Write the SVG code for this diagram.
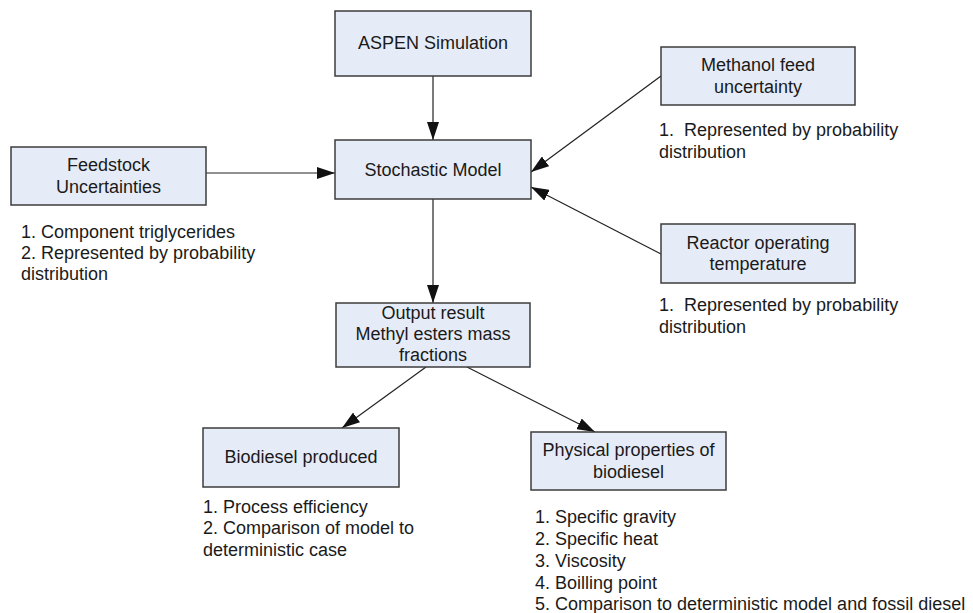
<svg xmlns="http://www.w3.org/2000/svg" width="973" height="613" viewBox="0 0 973 613">
<defs>
<marker id="arr" markerUnits="userSpaceOnUse" markerWidth="18" markerHeight="12" refX="18" refY="6" orient="auto">
<path d="M0,0 L18,6 L0,12 z" fill="#111"/>
</marker>
<style>
.box{fill:#E6ECF7;stroke:#3c3c3c;stroke-width:1.5}
.t{font-family:"Liberation Sans",Arial,sans-serif;font-size:18px;fill:#1a1a1a}
.c{text-anchor:middle}
.ln{stroke:#222;stroke-width:1.2;fill:none;marker-end:url(#arr)}
</style>
</defs>
<rect width="973" height="613" fill="#fff"/>
<g id="connectors">
<line class="ln" x1="433" y1="76" x2="433" y2="140"/>
<line class="ln" x1="206" y1="173" x2="335" y2="173"/>
<line class="ln" x1="661" y1="76" x2="531" y2="172"/>
<line class="ln" x1="661" y1="254" x2="531" y2="187"/>
<line class="ln" x1="433" y1="199" x2="433" y2="303"/>
<line class="ln" x1="426" y1="367" x2="342" y2="428"/>
<line class="ln" x1="467" y1="367" x2="595" y2="432"/>
</g>
<g id="aspen">
<rect class="box" x="335" y="11" width="196" height="65"/>
<text class="t c" x="433" y="49">ASPEN Simulation</text>
</g>
<g id="stochastic">
<rect class="box" x="335" y="140" width="196" height="59"/>
<text class="t c" x="433" y="176">Stochastic Model</text>
</g>
<g id="feedstock">
<rect class="box" x="11" y="147" width="195" height="58"/>
<text class="t c" x="108.5" y="171">Feedstock</text>
<text class="t c" x="108.5" y="193">Uncertainties</text>
<text class="t" x="21" y="238">1. Component triglycerides</text>
<text class="t" x="21" y="259">2. Represented by probability</text>
<text class="t" x="21" y="280">distribution</text>
</g>
<g id="methanol">
<rect class="box" x="661" y="47" width="194" height="58"/>
<text class="t c" x="758" y="71">Methanol feed</text>
<text class="t c" x="758" y="93">uncertainty</text>
<text class="t" x="659" y="136" xml:space="preserve">1.  Represented by probability</text>
<text class="t" x="659" y="158">distribution</text>
</g>
<g id="reactor">
<rect class="box" x="661" y="224" width="194" height="59"/>
<text class="t c" x="758" y="249">Reactor operating</text>
<text class="t c" x="758" y="270">temperature</text>
<text class="t" x="659" y="311" xml:space="preserve">1.  Represented by probability</text>
<text class="t" x="659" y="333">distribution</text>
</g>
<g id="output">
<rect class="box" x="336" y="303" width="194" height="64"/>
<text class="t c" x="433" y="319">Output result</text>
<text class="t c" x="433" y="340">Methyl esters mass</text>
<text class="t c" x="433" y="361">fractions</text>
</g>
<g id="biodiesel">
<rect class="box" x="203" y="428" width="196" height="59"/>
<text class="t c" x="301" y="463">Biodiesel produced</text>
<text class="t" x="203" y="513">1. Process efficiency</text>
<text class="t" x="203" y="534">2. Comparison of model to</text>
<text class="t" x="203" y="556">deterministic case</text>
</g>
<g id="physical">
<rect class="box" x="531" y="432" width="195" height="58"/>
<text class="t c" x="628.5" y="456">Physical properties of</text>
<text class="t c" x="628.5" y="478">biodiesel</text>
<text class="t" x="535" y="523">1. Specific gravity</text>
<text class="t" x="535" y="545">2. Specific heat</text>
<text class="t" x="535" y="567">3. Viscosity</text>
<text class="t" x="535" y="589">4. Boilling point</text>
<text class="t" x="535" y="610">5. Comparison to deterministic model and fossil diesel</text>
</g>
</svg>
